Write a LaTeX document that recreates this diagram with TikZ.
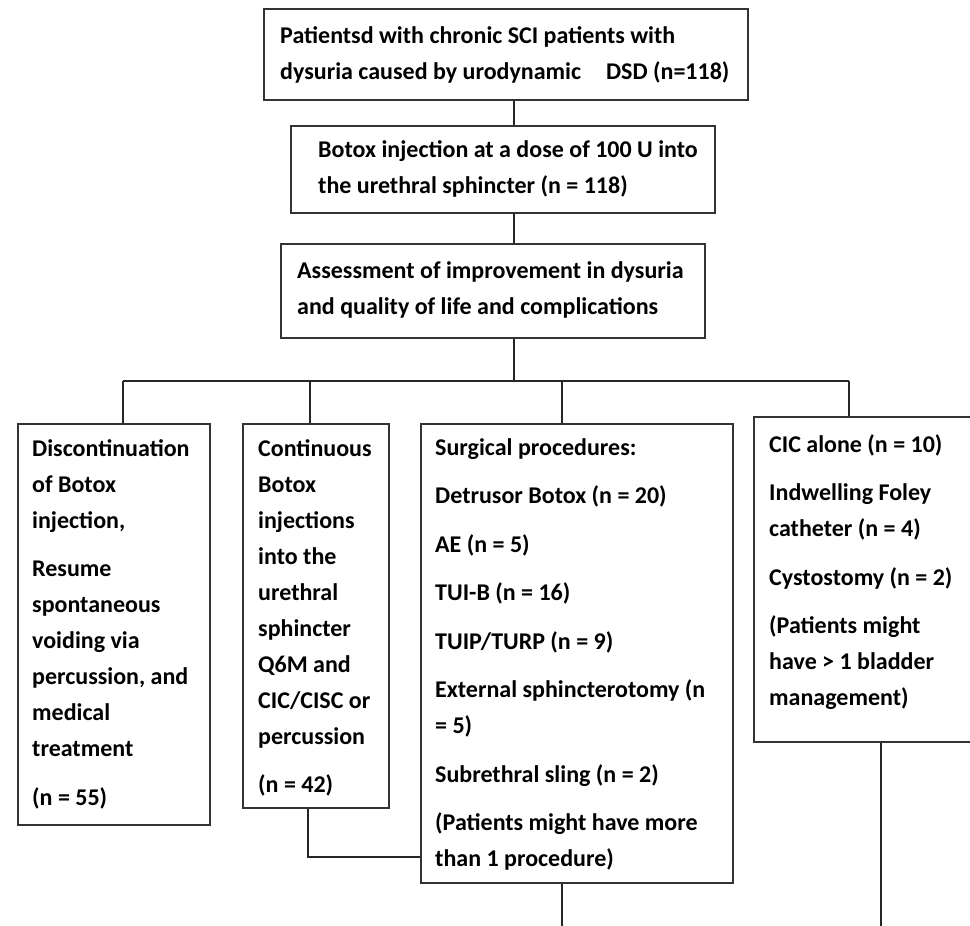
\documentclass[tikz,border=0pt]{standalone}
\usepackage{fontspec}
\setmainfont{Carlito}

\newcommand{\flowtext}[2]{\parbox[t]{#1}{\raggedright\setlength{\parindent}{0pt}\setlength{\parskip}{12.5pt}#2}}

\tikzset{
  box/.style={draw=black!80, line width=1.5pt, anchor=north west, inner sep=0pt},
  boxtext/.style={anchor=base west, inner sep=0pt, font=\bfseries\fontsize{24}{36}\selectfont},
  link/.style={draw=black!85, line width=1.3pt}
}

\begin{document}
\begin{tikzpicture}[x=1pt,y=-1pt]
  \useasboundingbox (0,0) rectangle (970,926);
  \clip (0,0) rectangle (970,926);
  % boxes
  \node[box, minimum width=484pt, minimum height=91pt] (patients) at (263,8) {};
  \node[box, minimum width=424pt, minimum height=87pt] (dose) at (290,125) {};
  \node[box, minimum width=424pt, minimum height=94pt] (assess) at (280,243) {};
  \node[box, minimum width=192pt, minimum height=401pt] (disc) at (17,423) {};
  \node[box, minimum width=146pt, minimum height=384pt] (cont) at (242,423) {};
  \node[box, minimum width=312pt, minimum height=459pt] (surg) at (420,423) {};
  \node[box, minimum width=240pt, minimum height=325pt] (cic) at (753,416) {};
  % texts
  \node[boxtext] (patientsT) at (280,43) {\flowtext{462pt}{Patientsd with chronic SCI patients with\\dysuria caused by urodynamic\hspace{25pt}DSD (n=118)}};
  \node[boxtext] (doseT) at (318,157) {\flowtext{392pt}{Botox injection at a dose of 100 U into\\the urethral sphincter (n = 118)}};
  \node[boxtext] (assessT) at (297,278) {\flowtext{403pt}{Assessment of improvement in dysuria\\and quality of life and complications}};
  \node[boxtext] (discT) at (32,456) {\flowtext{176pt}{Discontinuation\\of Botox\\injection,\par
    Resume\\spontaneous\\voiding via\\percussion, and\\medical\\treatment\par
    (n = 55)}};
  \node[boxtext] (contT) at (258,456) {\flowtext{129pt}{Continuous\\Botox\\injections\\into the\\urethral\\sphincter\\Q6M and\\CIC/CISC or\\percussion\par
    (n = 42)}};
  \node[boxtext] (surgT) at (435,455) {\flowtext{294pt}{Surgical procedures:\par
    Detrusor Botox (n = 20)\par
    AE (n = 5)\par
    TUI-B (n = 16)\par
    TUIP/TURP (n = 9)\par
    External sphincterotomy (n\\= 5)\par
    Subrethral sling (n = 2)\par
    (Patients might have more\\than 1 procedure)}};
  \node[boxtext] (cicT) at (769,452) {\flowtext{198pt}{CIC alone (n = 10)\par
    Indwelling Foley\\catheter (n = 4)\par
    Cystostomy (n = 2)\par
    (Patients might\\have > 1 bladder\\management)}};
  % connectors
  \coordinate (spine) at (514,0);
  \coordinate (busL) at (123,381);
  \coordinate (busC) at (310,381);
  \coordinate (busS) at (562,381);
  \coordinate (busR) at (849,381);
  \coordinate (joinC) at (308,857);
  \coordinate (endS) at (562,926);
  \coordinate (endR) at (881,926);
  \draw[link] (patients.south -| spine) -- (dose.north -| spine);
  \draw[link] (dose.south -| spine) -- (assess.north -| spine);
  \draw[link] (assess.south -| spine) -- (spine |- busL);
  \draw[link] (busL) -- (busR);
  \draw[link] (busL) -- (busL |- disc.north);
  \draw[link] (busC) -- (busC |- cont.north);
  \draw[link] (busS) -- (busS |- surg.north);
  \draw[link] (busR) -- (busR |- cic.north);
  \draw[link] (cont.south -| joinC) -- (joinC) -- (joinC -| surg.west);
  \draw[link] (surg.south -| endS) -- (endS);
  \draw[link] (cic.south -| endR) -- (endR);
\end{tikzpicture}
\end{document}
